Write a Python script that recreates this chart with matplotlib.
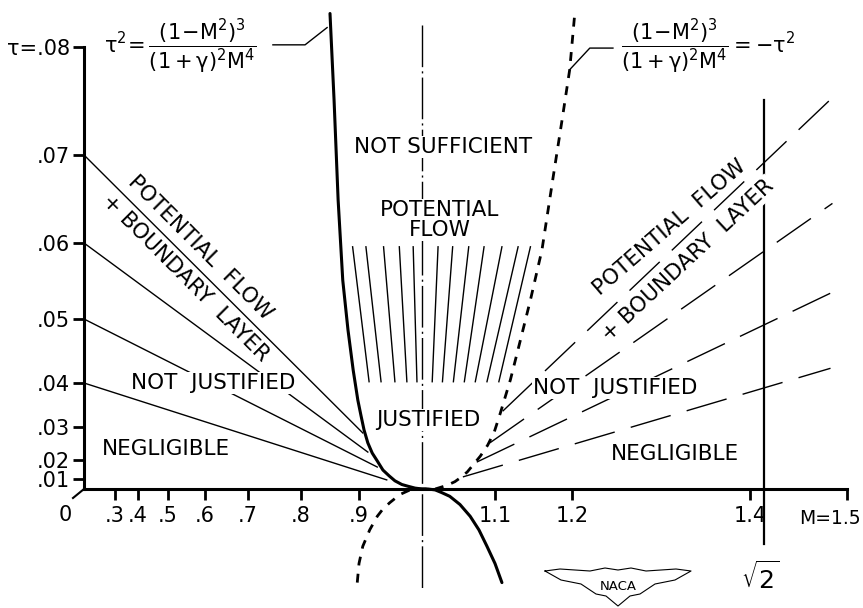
import numpy as np
import matplotlib.pyplot as plt

plt.rcParams['font.family'] = ['DejaVu Sans']
plt.rcParams['mathtext.fontset'] = 'dejavusans'
plt.rcParams['mathtext.default'] = 'regular'

# the hand-drawn scales are not linear: tick values and where each one sits (pixels)
M_ticks = [0, .3, .4, .5, .6, .7, .8, .9, 1.0, 1.1, 1.2, 1.4, 1.5]
M_pos = [84, 115, 138, 168, 205, 248, 301, 359, 422, 495, 572, 750, 847]
tau_ticks = [0, .01, .02, .03, .04, .05, .06, .07, .08]
tau_pos = [489, 479, 460, 427, 383, 319, 243, 155, 47]

# tau^2 = (1-M^2)^3 / ((1+g)^2 M^4)  (solid)
solid_M = [.850, .857, .864, .872, .881, .890, .898, .903, .908, .914, .921, .929, .938,
           .948, .957, .968, .978, .989, 1.0, 1.008, 1.018, 1.027, 1.038, 1.052, 1.066,
           1.078, 1.089, 1.100, 1.109]
solid_tau = [.0831, .0751, .0649, .0551, .0483, .0420, .0361, .0327, .0291, .0252, .0221, .0195, .0147,
             .0116, .0082, .0045, .0027, .0009, 0, 0, -.0009, -.0036, -.0073, -.0155, -.0273,
             -.0409, -.0573, -.0745, -.0936]

# (1-M^2)^3 / ((1+g)^2 M^4) = -tau^2  (dashed)
dashed_M = [.897, .900, .906, .917, .929, .938, .949, .965, .981, .991, 1.0, 1.018, 1.034, 1.045,
            1.052, 1.062, 1.070, 1.080, 1.090, 1.099, 1.107, 1.120, 1.133, 1.146, 1.161, 1.175,
            1.187, 1.197, 1.203]
dashed_tau = [-.0936, -.0745, -.0573, -.0409, -.0273, -.0200, -.0136, -.0055, -.0009, 0, 0, 0, .0036, .0073,
              .0105, .0137, .0174, .0212, .0245, .0285, .0332, .0405, .0467, .0525, .0591, .0672,
              .0732, .0779, .0830]

# subsonic similarity lines (start on the tau axis)
left_start_tau = [.07, .06, .05, .04]
left_end_M = [.906, .914, .929, .944]
left_end_tau = [.0282, .0224, .0163, .0091]

# supersonic similarity lines
right_start_M = [1.110, 1.093, 1.075, 1.056]
right_start_tau = [.0336, .0252, .0189, .0111]
right_end_M = [1.486, 1.485, 1.483, 1.483]
right_end_tau = [.0754, .0645, .0534, .0423]

# hatching in the "potential flow" region
hatch_top_M = [.889, .911, .939, .964, .986, 1.022, 1.042, 1.064, 1.085, 1.109, 1.130, 1.146]
hatch_bot_M = [.916, .935, .957, .976, .992, 1.014, 1.028, 1.043, 1.058, 1.073, 1.089, 1.105]
hatch_tau = [.0595, .0402]

center_tau = [.082, -.100]
root2_tau = [.0751, -.0545]

left_leader_M = [.747, .807, .845]
left_leader_tau = [.0802, .0802, .0818]
right_leader_M = [1.197, 1.220, 1.246]
right_leader_tau = [.0779, .0799, .0799]

x_labels = ['.3', '.4', '.5', '.6', '.7', '.8', '.9', '1.1', '1.2', '1.4', '']
y_labels = ['.01', '.02', '.03', '.04', '.05', '.06', '.07', 'τ=.08']


def piecewise(xp, fp):
    xp = np.asarray(xp, float)
    fp = np.asarray(fp, float)
    s0 = (fp[1] - fp[0]) / (xp[1] - xp[0])
    s1 = (fp[-1] - fp[-2]) / (xp[-1] - xp[-2])

    def f(x):
        x = np.asarray(x, float)
        y = np.interp(x, xp, fp)
        y = np.where(x < xp[0], fp[0] + (x - xp[0]) * s0, y)
        y = np.where(x > xp[-1], fp[-1] + (x - xp[-1]) * s1, y)
        return y
    return f


W, H = 863, 608
fig = plt.figure(figsize=(W / 100, H / 100), dpi=100)
ax = fig.add_axes([0, 0, 1, 1])

neg_pos = -np.array(tau_pos, float)
ax.set_xscale('function', functions=(piecewise(M_ticks, M_pos), piecewise(M_pos, M_ticks)))
ax.set_yscale('function', functions=(piecewise(tau_ticks, neg_pos), piecewise(neg_pos, tau_ticks)))
ax.set_xlim(piecewise(M_pos, M_ticks)(0), piecewise(M_pos, M_ticks)(W))
ax.set_ylim(piecewise(neg_pos, tau_ticks)(-H), piecewise(neg_pos, tau_ticks)(0))

for s in ['top', 'right']:
    ax.spines[s].set_visible(False)
ax.spines['left'].set_position(('data', 0))
ax.spines['bottom'].set_position(('data', 0))
ax.spines['left'].set_bounds(0, .08)
ax.spines['bottom'].set_bounds(0, 1.5)
ax.spines['left'].set_linewidth(2.2)
ax.spines['bottom'].set_linewidth(2.2)

xt = [m for m in M_ticks if m not in (0, 1.0)]
ax.set_xticks(xt, x_labels)
ax.set_yticks(tau_ticks[1:], y_labels)
ax.minorticks_off()
ax.tick_params(axis='both', direction='out', length=8, width=2, labelsize=15)
ax.tick_params(axis='x', pad=4)
ax.tick_params(axis='y', pad=2)

# curves
ax.plot(solid_M, solid_tau, color='black', lw=2.2, solid_capstyle='round', solid_joinstyle='round')
ax.plot(dashed_M, dashed_tau, color='black', lw=2.0, linestyle=(0, (3.2, 3.0)), dash_capstyle='butt')

for t0, m1, t1 in zip(left_start_tau, left_end_M, left_end_tau):
    ax.plot([0, m1], [t0, t1], color='black', lw=1.0)
for m0, t0, m1, t1 in zip(right_start_M, right_start_tau, right_end_M, right_end_tau):
    ax.plot([m0, m1], [t0, t1], color='black', lw=1.0, dashes=(30, 12))
for mt, mb in zip(hatch_top_M, hatch_bot_M):
    ax.plot([mt, mb], hatch_tau, color='black', lw=1.0)

ax.plot([1.0, 1.0], center_tau, color='black', lw=1.0, dashes=(30, 3, 1.5, 3))
ax.plot([np.sqrt(2)] * 2, root2_tau, color='black', lw=1.6)
ax.plot(left_leader_M, left_leader_tau, color='black', lw=1.0)
ax.plot(right_leader_M, right_leader_tau, color='black', lw=1.0)


def px(x, y):
    return x / W, 1 - y / H


box = dict(facecolor='white', edgecolor='none', pad=1.0)


def label(x, y, s, size=15.5, rot=0, bbox=True, **kw):
    ax.text(*px(x, y), s, transform=ax.transAxes, ha='center', va='center', fontsize=size,
            rotation=rot, rotation_mode='anchor', bbox=box if bbox else None, zorder=5, **kw)


label(180, 47, r'$\tau^2\!=\dfrac{(1\!-\!M^2)^3}{(1+\gamma)^2M^4}$', size=15, bbox=False)
label(708, 47, r'$\dfrac{(1\!-\!M^2)^3}{(1+\gamma)^2M^4}=-\tau^2$', size=15, bbox=False)

label(443, 147, 'NOT SUFFICIENT')
label(440, 220, 'POTENTIAL\nFLOW', linespacing=1.0)
label(428, 420, 'JUSTIFIED')
label(213, 383, 'NOT  JUSTIFIED')
label(166, 449, 'NEGLIGIBLE', bbox=False)
label(615, 388, 'NOT  JUSTIFIED')
label(675, 454, 'NEGLIGIBLE', bbox=False)
label(200, 248, 'POTENTIAL  FLOW', rot=-45)
label(185, 278, '+ BOUNDARY  LAYER', rot=-45)
label(670, 228, 'POTENTIAL  FLOW', rot=41)
label(688, 260, '+ BOUNDARY  LAYER', rot=43)
label(830, 518, 'M=1.5', size=13.5, bbox=False)
label(65, 515, '0', size=15, bbox=False)
label(760, 578, r'$\sqrt{2}$', size=18, bbox=False)

# origin stroke
ax.plot(*zip(px(84, 489), px(73, 498)), transform=ax.transAxes, color='black', lw=1.5)

# NACA wings
wx = np.array([545, 560, 590, 605, 618, 631, 646, 676, 691, 675, 655, 640, 630, 618, 606, 596, 581, 561, 545])
wy = np.array([571, 569, 571, 568, 570, 568, 571, 569, 571, 580, 584, 594, 596, 606, 596, 594, 584, 580, 571])
ax.plot(wx / W, 1 - wy / H, transform=ax.transAxes, color='black', lw=0.8)
label(618, 587, 'NACA', size=9.5, bbox=False)

fig.savefig('out.png', dpi=100)
